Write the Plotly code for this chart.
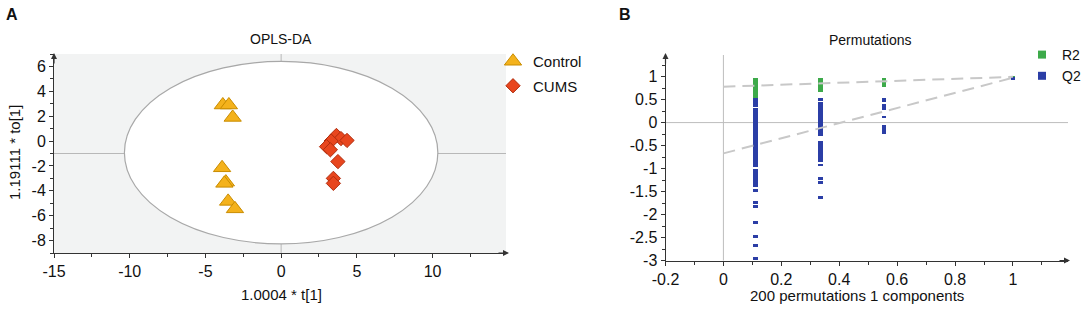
import plotly.graph_objects as go

# ---------------- Panel A data (OPLS-DA scores) ----------------
control_x = [-3.85, -3.45, -3.2, -3.9, -3.65, -3.75, -3.5, -3.05]
control_y = [2.9, 2.9, 1.9, -2.15, -3.3, -3.4, -4.85, -5.45]
cums_x = [3.65, 3.95, 4.35, 3.3, 3.0, 3.25, 3.75, 3.45, 3.45]
cums_y = [0.45, 0.2, 0.05, 0.0, -0.45, -0.7, -1.65, -3.0, -3.4]
ellipse_x = [-10.35, 10.35]
ellipse_y = [-8.27, 6.4]
a_xticks = [-15, -10, -5, 0, 5, 10]
a_xticktext = ["-15", "-10", "-5", "0", "5", "10"]
a_yticks = [-8, -6, -4, -2, 0, 2, 4, 6]
a_yticktext = ["-8", "-6", "-4", "-2", "0", "2", "4", "6"]

# ---------------- Panel B data (permutation test) ----------------
r2_x = [0.111, 0.335, 0.554, 1.0]
r2_top = [0.965, 0.965, 0.96, 1.005]
r2_bottom = [0.53, 0.66, 0.78, 0.985]
q2_x = [0.111] * 10 + [0.335] * 7 + [0.554] * 4 + [1.0]
q2_top = [0.53, 0.31, -1.01, -1.45, -1.70, -1.79, -2.15, -2.44, -2.65, -2.92,
          0.53, 0.44, -0.40, -0.89, -1.18, -1.27, -1.60,
          0.54, 0.41, 0.14, -0.05,
          0.985]
q2_bottom = [0.34, -0.97, -1.41, -1.50, -1.77, -1.86, -2.21, -2.50, -2.71, -2.98,
             0.46, -0.30, -0.85, -0.95, -1.24, -1.33, -1.66,
             0.44, 0.27, 0.09, -0.24,
             0.935]
r2_line_x = [0, 1]
r2_line_y = [0.78, 0.995]
q2_line_x = [0, 1]
q2_line_y = [-0.67, 0.975]
b_xticks = [-0.2, 0, 0.2, 0.4, 0.6, 0.8, 1]
b_xticktext = ["-0.2", "0", "0.2", "0.4", "0.6", "0.8", "1"]
b_yticks = [-3, -2.5, -2, -1.5, -1, -0.5, 0, 0.5, 1]
b_yticktext = ["-3", "-2.5", "-2", "-1.5", "-1", "-0.5", "0", "0.5", "1"]

W, H = 1084, 309
FONT = "Liberation Sans, Arial, sans-serif"
AX = "#333333"

def px(x):
    return x / W

def py(y):
    return 1 - y / H

fig = go.Figure()

# Panel A traces
fig.add_trace(go.Scatter(
    x=control_x, y=control_y, mode="markers", name="Control",
    marker=dict(symbol="triangle-up", size=15, color="#F4B21C",
                line=dict(color="#C98C00", width=1)),
    xaxis="x", yaxis="y", legend="legend", legendgroup="c"))
fig.add_trace(go.Scatter(
    x=cums_x, y=cums_y, mode="markers", name="CUMS",
    marker=dict(symbol="diamond", size=11, color="#E8461E",
                line=dict(color="#B02D0E", width=1)),
    xaxis="x", yaxis="y", legend="legend", legendgroup="d"))

# Panel B traces
fig.add_trace(go.Scatter(
    x=r2_line_x, y=r2_line_y, mode="lines", showlegend=False,
    line=dict(color="#C8C8C8", width=2, dash="12px,7px"),
    xaxis="x2", yaxis="y2"))
fig.add_trace(go.Scatter(
    x=q2_line_x, y=q2_line_y, mode="lines", showlegend=False,
    line=dict(color="#C8C8C8", width=2, dash="12px,7px"),
    xaxis="x2", yaxis="y2"))
fig.add_trace(go.Bar(
    x=r2_x, y=[t - b for t, b in zip(r2_top, r2_bottom)], base=r2_bottom,
    width=0.015, marker=dict(color="#3DAA4A", line=dict(width=0)),
    showlegend=False, xaxis="x2", yaxis="y2"))
fig.add_trace(go.Bar(
    x=q2_x, y=[t - b for t, b in zip(q2_top, q2_bottom)], base=q2_bottom,
    width=0.015, marker=dict(color="#2B3EA6", line=dict(width=0)),
    showlegend=False, xaxis="x2", yaxis="y2"))
fig.add_trace(go.Scatter(
    x=[None], y=[None], mode="markers", name="R2",
    marker=dict(symbol="square", size=8, color="#3DAA4A"),
    xaxis="x2", yaxis="y2", legend="legend2"))
fig.add_trace(go.Scatter(
    x=[None], y=[None], mode="markers", name="Q2",
    marker=dict(symbol="square", size=8, color="#2B3EA6"),
    xaxis="x2", yaxis="y2", legend="legend2"))

shapes = [
    dict(type="rect", xref="x domain", yref="y domain", x0=0, x1=1, y0=0, y1=1,
         fillcolor="#F2F3F3", line=dict(width=0), layer="below"),
    dict(type="circle", xref="x", yref="y", x0=ellipse_x[0], x1=ellipse_x[1],
         y0=ellipse_y[0], y1=ellipse_y[1], fillcolor="white",
         line=dict(color="#A8A8A8", width=1.2), layer="below"),
    dict(type="line", xref="x", yref="y domain", x0=0, x1=0, y0=0, y1=1,
         line=dict(color="#B8B8B8", width=1), layer="below"),
    dict(type="line", xref="x domain", yref="y", x0=0, x1=1, y0=-1, y1=-1,
         line=dict(color="#B8B8B8", width=1), layer="below"),
    dict(type="line", xref="x2", yref="y2 domain", x0=0, x1=0, y0=0, y1=1,
         line=dict(color="#BDBDBD", width=1), layer="below"),
    dict(type="line", xref="x2 domain", yref="y2", x0=0, x1=1, y0=0, y1=0,
         line=dict(color="#BDBDBD", width=1), layer="below"),
]

def txt(text, x, y, size=15, bold=False, angle=0):
    return dict(text=("<b>%s</b>" % text) if bold else text, x=px(x), y=py(y),
                xref="paper", yref="paper", showarrow=False, textangle=angle,
                xanchor="center", yanchor="middle",
                font=dict(family=FONT, size=size, color="#111111"))

def arrow(x, y, ax, ay):
    return dict(text="", x=px(x), y=py(y), xref="paper", yref="paper",
                showarrow=True, ax=ax, ay=ay, arrowhead=2, arrowsize=1,
                arrowwidth=1.2, arrowcolor=AX, standoff=0)

annotations = [
    txt("A", 12, 15, size=16, bold=True),
    txt("B", 625, 14, size=16, bold=True),
    txt("OPLS-DA", 281, 39, size=14),
    txt("Permutations", 870, 40, size=14),
    txt("1.0004 * t[1]", 281, 294, size=15),
    txt("1.19111 * to[1]", 14, 153, size=15, angle=-90),
    txt("200 permutations 1 components", 857, 295, size=15),
    arrow(509, 253, -12, 0),
    arrow(54, 53, 0, 12),
    arrow(1070, 260.5, -12, 0),
    arrow(665.5, 53, 0, 12),
]

axis_common = dict(showgrid=False, zeroline=False, showline=True, linecolor=AX,
                   linewidth=1, ticks="outside", ticklen=4, tickcolor=AX,
                   tickfont=dict(family=FONT, size=16, color="#111111"),
                   automargin=False, fixedrange=True)

fig.update_layout(
    width=W, height=H,
    margin=dict(l=0, r=0, t=0, b=0, pad=0, autoexpand=False),
    paper_bgcolor="white", plot_bgcolor="rgba(0,0,0,0)",
    barmode="overlay", bargap=0,
    xaxis=dict(domain=[px(54), px(506)], range=[-15, 14.85], anchor="y",
               tickvals=a_xticks, ticktext=a_xticktext,
               minor=dict(tickvals=[-12.5, -7.5, -2.5, 2.5, 7.5, 12.5],
                          ticks="outside", ticklen=3, tickcolor=AX),
               **axis_common),
    yaxis=dict(domain=[py(253), py(54)], range=[-9, 7], anchor="x",
               tickvals=a_yticks, ticktext=a_yticktext,
               minor=dict(tickvals=[-9, -7, -5, -3, -1, 1, 3, 5, 7],
                          ticks="outside", ticklen=3, tickcolor=AX),
               **axis_common),
    xaxis2=dict(domain=[px(665.5), px(1068)], range=[-0.2, 1.19], anchor="y2",
                tickvals=b_xticks, ticktext=b_xticktext,
                minor=dict(tickvals=[-0.1, 0.1, 0.3, 0.5, 0.7, 0.9, 1.1],
                           ticks="outside", ticklen=3, tickcolor=AX),
                **axis_common),
    yaxis2=dict(domain=[py(260.5), py(55)], range=[-3, 1.47], anchor="x2",
                tickvals=b_yticks, ticktext=b_yticktext,
                minor=dict(tickvals=[-2.75, -2.25, -1.75, -1.25, -0.75, -0.25,
                                     0.25, 0.75, 1.25],
                           ticks="outside", ticklen=3, tickcolor=AX),
                **axis_common),
    legend=dict(x=px(493), y=py(45), xanchor="left", yanchor="top",
                bgcolor="rgba(0,0,0,0)", tracegroupgap=2,
                font=dict(family=FONT, size=15, color="#111111")),
    legend2=dict(x=px(1022), y=py(39), xanchor="left", yanchor="top",
                 bgcolor="rgba(0,0,0,0)",
                 font=dict(family=FONT, size=14, color="#111111")),
    shapes=shapes, annotations=annotations, showlegend=True,
)

fig.write_html(
    "out.html",
    config={"displayModeBar": False, "staticPlot": True},
    post_script="document.body.style.margin='0';document.body.style.padding='0';"
                "document.body.style.overflow='hidden';",
)
